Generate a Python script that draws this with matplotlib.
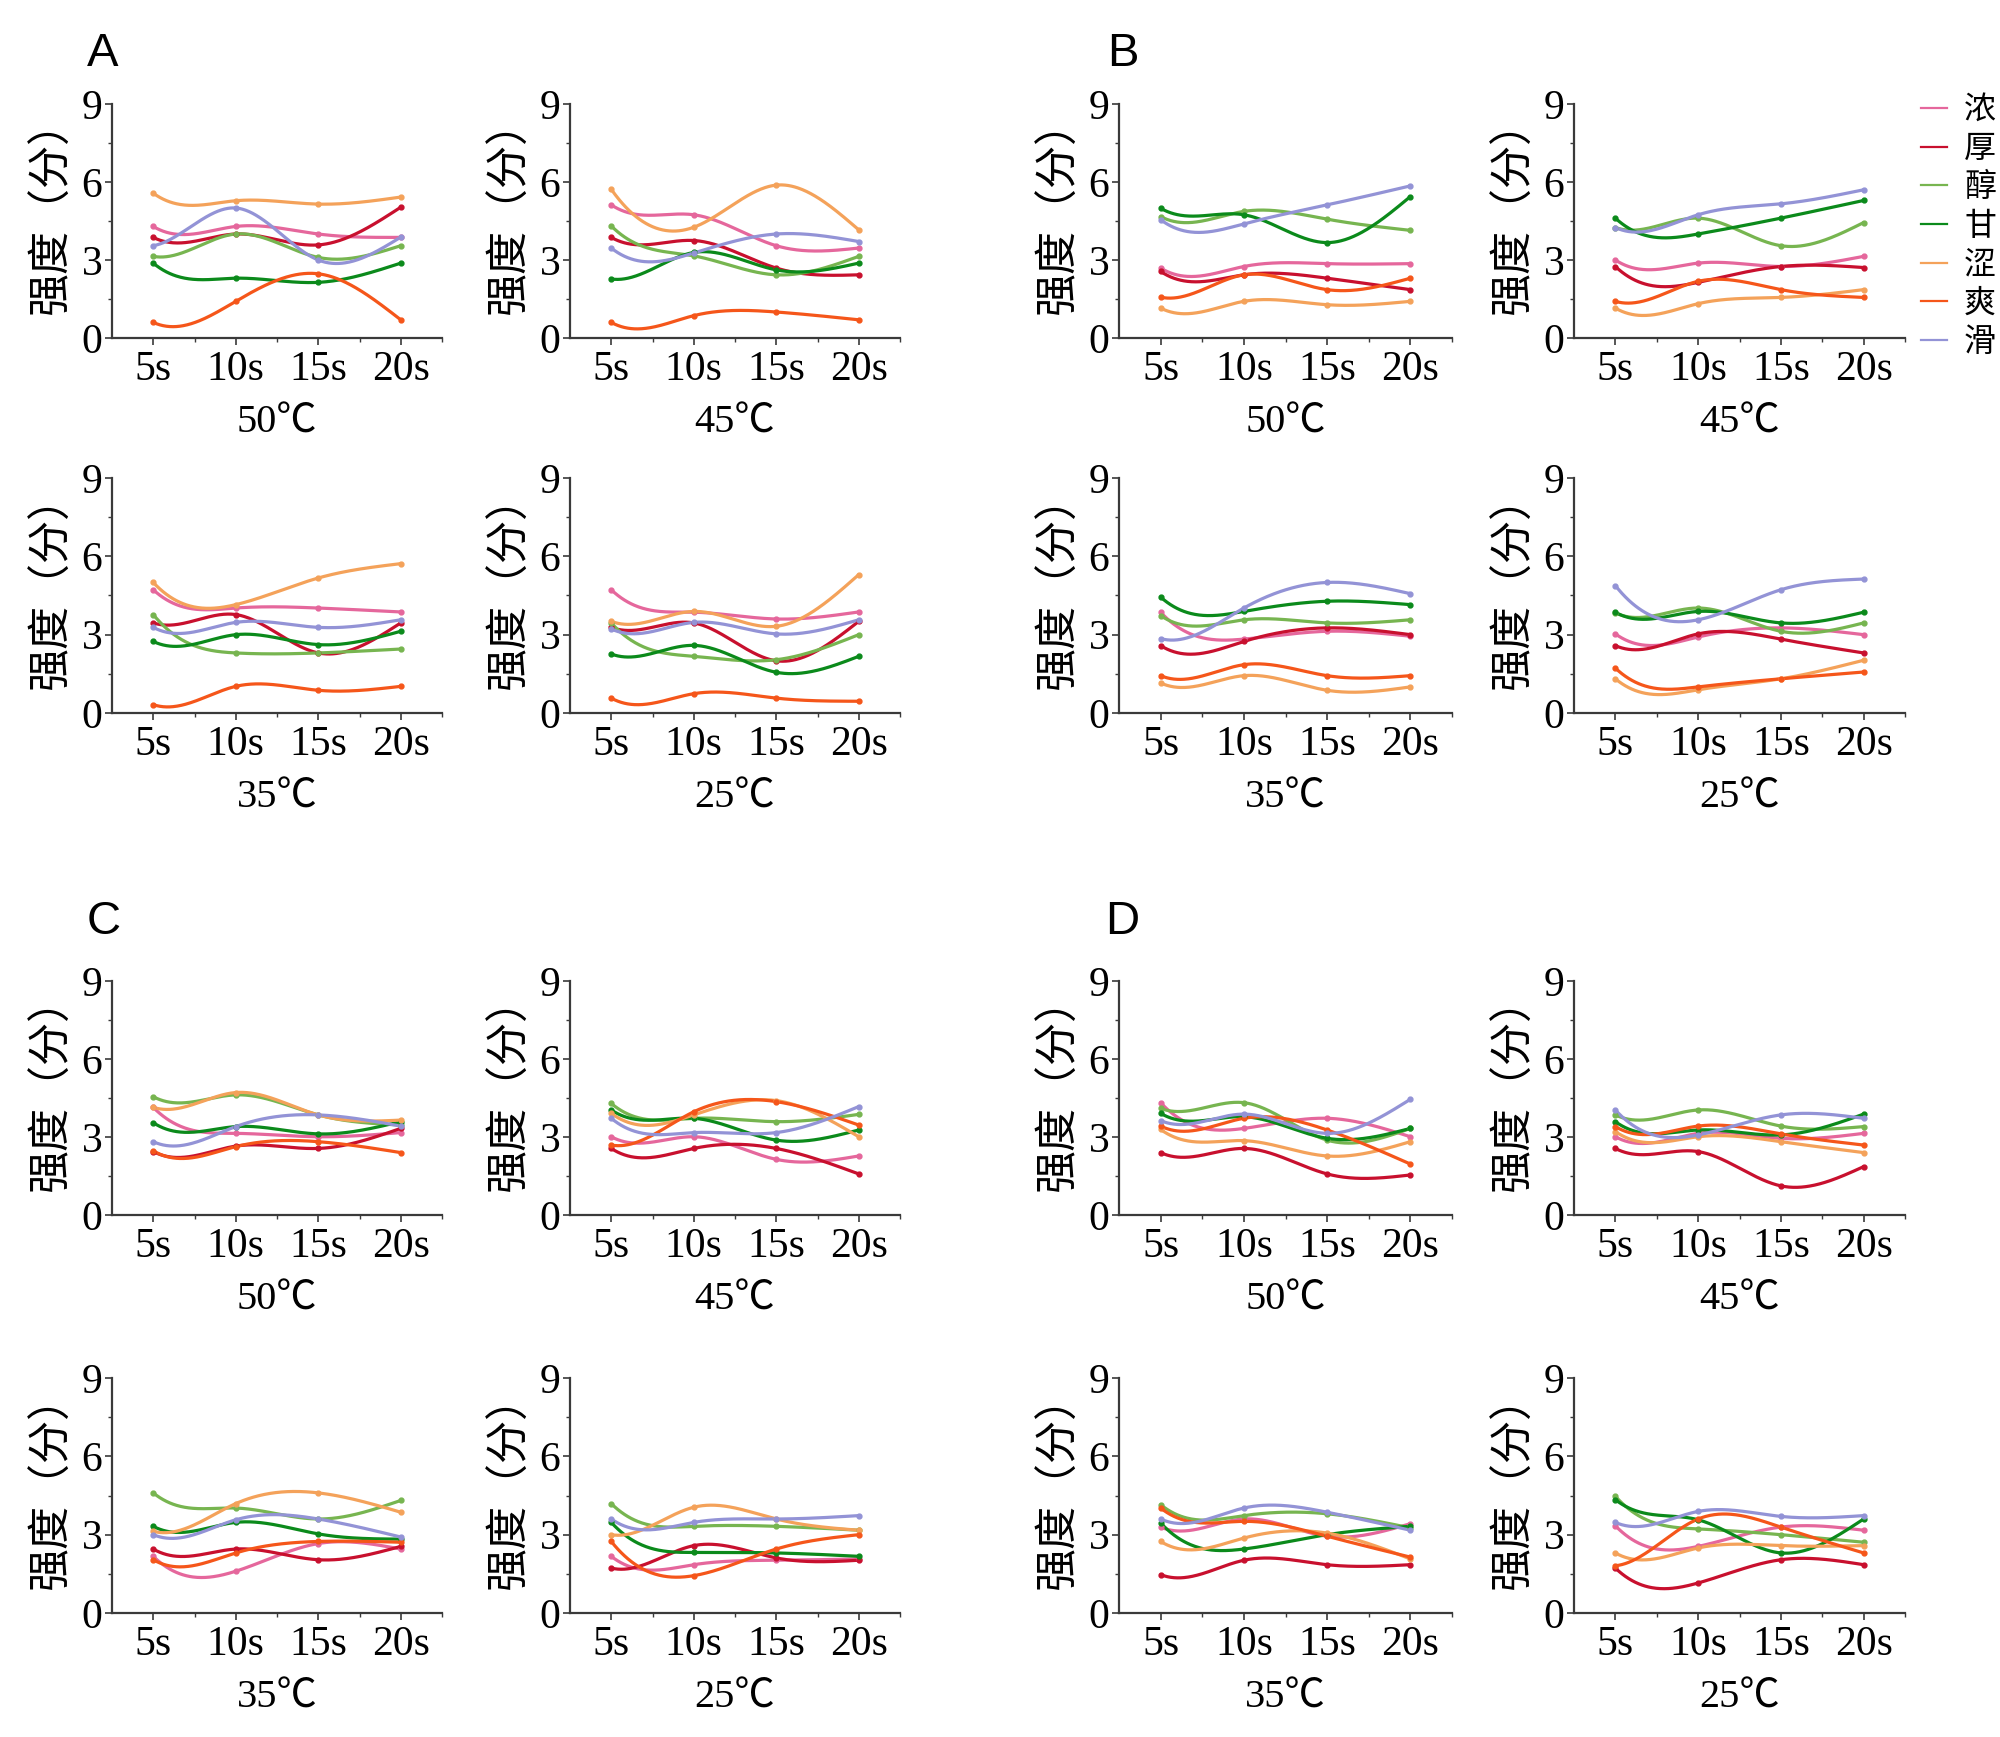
import numpy as np
import matplotlib
matplotlib.use('Agg')
import matplotlib.pyplot as plt
from matplotlib.lines import Line2D

plt.rcParams['font.family'] = ['Noto Sans CJK SC', 'DejaVu Sans']
LATIN = ['Liberation Serif', 'Noto Sans CJK SC', 'DejaVu Sans']

# ---------------- data ----------------
times = ['5s', '10s', '15s', '20s']
attributes = ['浓', '厚', '醇', '甘', '涩', '爽', '滑']
colors = ['#E5679C', '#C8102E', '#77B550', '#0B8A1B', '#F4A25A', '#F5561A', '#9393D6']
temps = ['50℃', '45℃', '35℃', '25℃']
panel_letters = ['A', 'B', 'C', 'D']

# rows: 浓, 厚, 醇, 甘, 涩, 爽, 滑 ; columns: 5s, 10s, 15s, 20s
A_50 = [[4.29, 4.29, 4.00, 3.87], [3.87, 4.00, 3.58, 5.03], [3.14, 4.00, 3.10, 3.55],
        [2.88, 2.30, 2.14, 2.88], [5.57, 5.28, 5.15, 5.42], [0.60, 1.41, 2.47, 0.70],
        [3.55, 5.00, 3.00, 3.88]]
A_45 = [[5.12, 4.74, 3.55, 3.46], [3.87, 3.75, 2.69, 2.43], [4.31, 3.16, 2.43, 3.14],
        [2.27, 3.29, 2.62, 2.88], [5.72, 4.26, 5.88, 4.16], [0.60, 0.86, 1.00, 0.70],
        [3.46, 3.27, 4.00, 3.71]]
A_35 = [[4.72, 4.02, 4.02, 3.87], [3.45, 3.77, 2.30, 3.45], [3.77, 2.30, 2.30, 2.45],
        [2.74, 3.00, 2.62, 3.13], [5.00, 4.15, 5.17, 5.72], [0.32, 1.02, 0.87, 1.02],
        [3.28, 3.47, 3.28, 3.57]]
A_25 = [[4.72, 3.86, 3.60, 3.87], [3.28, 3.45, 2.00, 3.51], [3.45, 2.17, 2.04, 3.00],
        [2.26, 2.59, 1.56, 2.17], [3.51, 3.89, 3.32, 5.30], [0.57, 0.74, 0.57, 0.45],
        [3.22, 3.47, 3.03, 3.57]]

B_50 = [[2.69, 2.75, 2.86, 2.86], [2.56, 2.43, 2.30, 1.86], [4.67, 4.87, 4.57, 4.14],
        [4.99, 4.74, 3.67, 5.44], [1.15, 1.41, 1.28, 1.41], [1.57, 2.43, 1.86, 2.30],
        [4.55, 4.39, 5.12, 5.85]]
B_45 = [[3.00, 2.88, 2.75, 3.14], [2.75, 2.14, 2.75, 2.71], [4.25, 4.61, 3.55, 4.44],
        [4.61, 4.00, 4.61, 5.29], [1.15, 1.32, 1.56, 1.86], [1.41, 2.18, 1.86, 1.56],
        [4.25, 4.74, 5.16, 5.70]]
B_35 = [[3.86, 2.83, 3.13, 2.94], [2.58, 2.74, 3.26, 3.00], [3.73, 3.57, 3.45, 3.57],
        [4.44, 3.89, 4.28, 4.15], [1.15, 1.43, 0.87, 1.00], [1.43, 1.85, 1.43, 1.43],
        [2.85, 4.02, 5.00, 4.57]]
B_25 = [[3.03, 2.91, 3.26, 3.00], [2.58, 3.03, 2.83, 2.30], [3.83, 4.02, 3.13, 3.45],
        [3.86, 3.89, 3.45, 3.86], [1.31, 0.89, 1.31, 2.02], [1.72, 1.00, 1.31, 1.57],
        [4.88, 3.57, 4.72, 5.13]]

C_50 = [[4.14, 3.14, 3.01, 3.17], [2.44, 2.65, 2.56, 3.33], [4.55, 4.62, 3.85, 3.46],
        [3.55, 3.40, 3.12, 3.59], [4.14, 4.71, 3.85, 3.65], [2.47, 2.63, 2.82, 2.40],
        [2.82, 3.40, 3.85, 3.42]]
C_45 = [[3.01, 3.01, 2.14, 2.27], [2.56, 2.56, 2.56, 1.58], [4.29, 3.72, 3.59, 3.87],
        [4.04, 3.72, 2.88, 3.27], [3.91, 3.85, 4.40, 3.01], [2.69, 3.97, 4.36, 3.46],
        [3.72, 3.17, 3.17, 4.17]]
C_35 = [[2.17, 1.60, 2.66, 2.45], [2.45, 2.45, 2.04, 2.55], [4.60, 4.02, 3.60, 4.31],
        [3.32, 3.47, 3.03, 2.83], [3.13, 4.19, 4.60, 3.86], [2.04, 2.30, 2.74, 2.71],
        [3.00, 3.57, 3.60, 2.91]]
C_25 = [[2.17, 1.85, 2.02, 2.07], [1.72, 2.58, 2.11, 2.02], [4.19, 3.32, 3.32, 3.17],
        [3.47, 2.32, 2.30, 2.17], [3.00, 4.05, 3.60, 3.17], [2.74, 1.43, 2.45, 3.00],
        [3.60, 3.47, 3.60, 3.73]]

D_50 = [[4.32, 3.33, 3.72, 3.01], [2.40, 2.56, 1.58, 1.54], [4.10, 4.32, 2.88, 3.33],
        [3.91, 3.78, 2.95, 3.33], [3.29, 2.86, 2.27, 2.82], [3.42, 3.72, 3.27, 1.96],
        [3.63, 3.88, 3.14, 4.45]]
D_45 = [[3.01, 3.14, 2.95, 3.14], [2.56, 2.44, 1.12, 1.86], [3.85, 4.04, 3.42, 3.40],
        [3.59, 3.27, 3.08, 3.88], [3.21, 3.01, 2.82, 2.40], [3.40, 3.42, 3.12, 2.69],
        [4.04, 3.08, 3.85, 3.72]]
D_35 = [[3.29, 3.60, 2.94, 3.42], [1.47, 2.02, 1.85, 1.85], [4.15, 3.73, 3.80, 3.26],
        [3.45, 2.45, 3.00, 3.32], [2.74, 2.87, 3.06, 2.07], [4.02, 3.51, 2.94, 2.14],
        [3.60, 4.02, 3.86, 3.17]]
D_25 = [[3.34, 2.55, 3.29, 3.17], [1.72, 1.15, 2.04, 1.85], [4.47, 3.22, 3.00, 2.71],
        [4.34, 3.57, 2.30, 3.60], [2.30, 2.49, 2.58, 2.58], [1.81, 3.60, 3.29, 2.30],
        [3.47, 3.89, 3.70, 3.73]]

groups = [[A_50, A_45, A_35, A_25], [B_50, B_45, B_35, B_25],
          [C_50, C_45, C_35, C_25], [D_50, D_45, D_35, D_25]]


# ---------------- helpers ----------------
def cubic_spline(x, y, xs, d0=None):
    """Cubic spline; natural end, start either natural or clamped to slope d0."""
    x = np.asarray(x, float)
    y = np.asarray(y, float)
    n = len(x)
    h = np.diff(x)
    A = np.zeros((n, n))
    b = np.zeros(n)
    if d0 is None:
        A[0, 0] = 1
    else:
        A[0, 0] = 2 * h[0]
        A[0, 1] = h[0]
        b[0] = 6 * ((y[1] - y[0]) / h[0] - d0)
    A[-1, -1] = 1
    for i in range(1, n - 1):
        A[i, i - 1] = h[i - 1]
        A[i, i] = 2 * (h[i - 1] + h[i])
        A[i, i + 1] = h[i]
        b[i] = 6 * ((y[i + 1] - y[i]) / h[i] - (y[i] - y[i - 1]) / h[i - 1])
    M = np.linalg.solve(A, b)
    idx = np.clip(np.searchsorted(x, xs) - 1, 0, n - 2)
    x0, x1 = x[idx], x[idx + 1]
    hh = x1 - x0
    t0 = x1 - xs
    t1 = xs - x0
    yy = (M[idx] * t0 ** 3 / (6 * hh) + M[idx + 1] * t1 ** 3 / (6 * hh)
          + (y[idx] / hh - M[idx] * hh / 6) * t0
          + (y[idx + 1] / hh - M[idx + 1] * hh / 6) * t1)
    slope0 = (y[1] - y[0]) / h[0] - h[0] * (2 * M[0] + M[1]) / 6
    return yy, slope0


def smooth(x, y, xs, start_bias=2.0):
    _, s0 = cubic_spline(x, y, xs)
    yy, _ = cubic_spline(x, y, xs, d0=s0 - start_bias)
    return yy


W, H = 2000, 1737
fig = plt.figure(figsize=(W / 100, H / 100), dpi=100)

col_px = [(112, 442), (570, 900), (1119, 1452), (1574, 1905)]
row_px = [(104, 338), (478, 713), (981, 1215), (1378, 1613)]
group_origin = [(0, 0), (0, 2), (2, 0), (2, 2)]
letter_pos = [(87, 54), (1107, 54), (87, 922), (1105, 922)]

xs = np.arange(len(times))
xf = np.linspace(0, len(times) - 1, 300)
axis_col = '#3a3a3a'

for g, panels in enumerate(groups):
    r0, c0 = group_origin[g]
    for k, data in enumerate(panels):
        r = r0 + k // 2
        c = c0 + k % 2
        x0, x1 = col_px[c]
        y0, y1 = row_px[r]
        ax = fig.add_axes([x0 / W, 1 - y1 / H, (x1 - x0) / W, (y1 - y0) / H])
        for vals, col in zip(data, colors):
            ax.plot(xf, smooth(xs, vals, xf), color=col, lw=2.3,
                    solid_capstyle='round', zorder=2)
            ax.plot(xs, vals, ls='none', marker='o', ms=3.5, color=col, zorder=3)
        ax.set_xlim(-0.5, len(times) - 0.5)
        ax.set_ylim(0, 9)
        ax.set_xticks(xs)
        ax.set_xticklabels(times, family=LATIN)
        ax.set_xticks(np.arange(0.5, len(times), 1.0), minor=True)
        ax.set_yticks([0, 3, 6, 9])
        ax.set_yticklabels(['0', '3', '6', '9'], family=LATIN)
        ax.set_yticks([1.5, 4.5, 7.5], minor=True)
        for s in ['top', 'right']:
            ax.spines[s].set_visible(False)
        for s in ['left', 'bottom']:
            ax.spines[s].set_color(axis_col)
            ax.spines[s].set_linewidth(1.6)
        ax.tick_params(axis='both', which='major', direction='out', length=5,
                       width=1.2, color=axis_col, labelsize=30)
        ax.tick_params(axis='x', which='major', pad=4)
        ax.tick_params(axis='y', which='major', pad=2)
        ax.tick_params(axis='both', which='minor', direction='out', length=3,
                       width=1.0, color=axis_col)
        ax.set_xlabel(temps[k], fontsize=29, labelpad=11, family=LATIN)
        ax.set_ylabel('强度（分）', fontsize=31)
        ax.yaxis.set_label_coords(-0.115, 0.56)
    lx, ly = letter_pos[g]
    fig.text(lx / W, 1 - ly / H, panel_letters[g], fontsize=34,
             ha='left', va='center', family=['Liberation Sans', 'DejaVu Sans'])

handles = [Line2D([0], [0], color=c, lw=1.6) for c in colors]
fig.legend(handles, attributes, loc='upper left',
           bbox_to_anchor=(1921 / W, 1 - 94 / H), frameon=False, fontsize=23,
           handlelength=0.8, handletextpad=0.55, labelspacing=0.21,
           borderaxespad=0, borderpad=0)

fig.savefig('out.png', dpi=100)
